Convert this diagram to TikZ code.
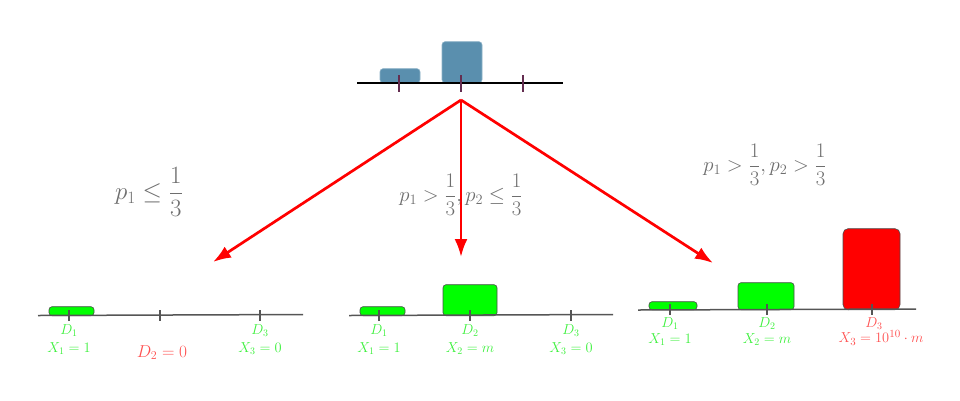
\documentclass[tikz,border=0pt]{standalone}
\usetikzlibrary{shapes,arrows.meta,positioning,calc}
\definecolor{barblue}{RGB}{90,143,174}
\definecolor{tickplum}{RGB}{100,45,80}
\definecolor{axisgray}{RGB}{85,85,85}
\definecolor{labelgray}{RGB}{110,110,110}
\definecolor{bargreen}{RGB}{0,255,0}
\definecolor{barred}{RGB}{255,0,0}
\definecolor{txtgreen}{RGB}{60,240,60}
\definecolor{txtred}{RGB}{255,80,80}

\begin{document}
\begin{tikzpicture}[x=1pt, y=-1pt, >=latex]
    \tikzstyle{bar} = [rectangle, draw=black!70, line width=0.6pt, rounded corners=3pt, anchor=south, inner sep=0pt]
    \tikzstyle{gbar} = [bar, fill=bargreen]
    \tikzstyle{axis} = [draw, line width=1.5pt, axisgray]
    \tikzstyle{tick} = [draw, line width=2pt, axisgray]
    \tikzstyle{lab} = [align=center, text=txtgreen, anchor=north, inner sep=0pt, font=\fontsize{14.5}{18}\selectfont]
    \tikzstyle{cond} = [text=labelgray, font=\fontsize{22.5}{26}\selectfont]
    \tikzstyle{line} = [draw, -{Latex[length=18pt,width=13pt]}, line width=2.7pt, red]

    \useasboundingbox (0,0) rectangle (960,400);

    % prior
    \node [bar, draw=barblue!70, fill=barblue, minimum width=40, minimum height=14] (prior1) at (400,83) {};
    \node [bar, draw=barblue!70, fill=barblue, minimum width=40, minimum height=41] (prior2) at (462,83) {};
    \draw [line width=1.3pt] (357,83) -- (563,83);
    \foreach \x in {399,461,523}
      \draw [line width=1.3pt, tickplum] (\x,75) -- (\x,92);

    % arrows
    \coordinate (src) at (461,100);
    \coordinate (endL) at (213,262);
    \coordinate (endM) at (461,257);
    \coordinate (endR) at (713,263);
    \path [line] (src) -- (endL);
    \path [line] (src) -- (endM);
    \path [line] (src) -- (endR);

    \node [cond, font=\fontsize{24}{28}\selectfont] (condL) at (149,192) {$\displaystyle p_1 \le \frac{1}{3}$};
    \node [cond] (condM) at (461,195) {$\displaystyle p_1 > \frac{1}{3}, p_2 \le \frac{1}{3}$};
    \node [cond] (condR) at (765,165) {$\displaystyle p_1 > \frac{1}{3}, p_2 > \frac{1}{3}$};

    % left outcome
    \node [gbar, minimum width=45, minimum height=9] (barL1) at (71.5,316) {};
    \draw [axis] (38,315.5) -- (303,314.5);
    \foreach \x in {69,160,260}
      \draw [tick] (\x,310) -- (\x,321);
    \node [lab] (labL1) at (69,324) {$D_1$\\$X_1=1$};
    \node [lab, text=txtred, font=\fontsize{17.5}{20}\selectfont] (labL2) at (162,345) {$D_2=0$};
    \node [lab] (labL3) at (260,324) {$D_3$\\$X_3=0$};

    % middle outcome
    \node [gbar, minimum width=45, minimum height=9] (barM1) at (382.5,316) {};
    \node [gbar, minimum width=54, minimum height=31] (barM2) at (470,316) {};
    \draw [axis] (349,315.5) -- (613,314.5);
    \foreach \x in {379,470,571}
      \draw [tick] (\x,310) -- (\x,321);
    \node [lab] (labM1) at (379,324) {$D_1$\\$X_1=1$};
    \node [lab] (labM2) at (470,324) {$D_2$\\$X_2=m$};
    \node [lab] (labM3) at (571,324) {$D_3$\\$X_3=0$};

    % right outcome
    \node [gbar, minimum width=48, minimum height=8] (barR1) at (673,310) {};
    \node [gbar, minimum width=56, minimum height=27] (barR2) at (766,310) {};
    \node [bar, fill=barred, rounded corners=5pt, minimum width=57, minimum height=81] (barR3) at (871.5,310) {};
    \draw [axis] (638,310) -- (916,309);
    \foreach \x in {670,767,872}
      \draw [tick] (\x,304) -- (\x,315);
    \node [lab, font=\fontsize{14}{16}\selectfont] (labR1) at (670,317) {$D_1$\\$X_1=1$};
    \node [lab, font=\fontsize{14}{16}\selectfont] (labR2) at (767,317) {$D_2$\\$X_2=m$};
    \node [lab, text=txtred, font=\fontsize{14}{16}\selectfont] (labR3) at (874,317) {$D_3$};
    \node [lab, text=txtred, font=\fontsize{15.5}{16}\selectfont, below=1pt of labR3.south, xshift=7pt] (valR3) {$X_3=10^{10}\cdot m$};
\end{tikzpicture}
\end{document}
